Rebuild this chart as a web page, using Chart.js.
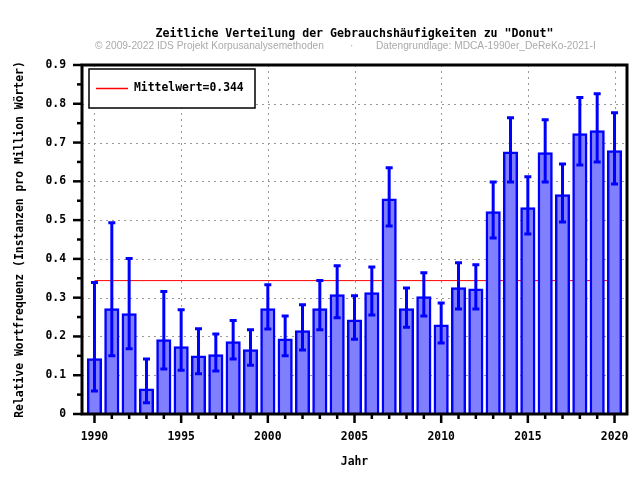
<!DOCTYPE html>
<html>
<head>
<meta charset="utf-8">
<script src="https://cdn.jsdelivr.net/npm/chart.js@4/dist/chart.umd.min.js"></script>
<style>
    body { margin:0; background:#fff; }
    #wrap { width:640px; height:480px; }
</style>
</head>
<body>
<div id="wrap"><canvas id="chart" width="640" height="480"></canvas></div>
<script>
// Data
const years = [1990, 1991, 1992, 1993, 1994, 1995, 1996, 1997, 1998, 1999,
               2000, 2001, 2002, 2003, 2004, 2005, 2006, 2007, 2008, 2009,
               2010, 2011, 2012, 2013, 2014, 2015, 2016, 2017, 2018, 2019, 2020];
const freq = [0.143, 0.272, 0.259, 0.065, 0.192, 0.174, 0.150, 0.153, 0.187, 0.166,
              0.272, 0.194, 0.215, 0.272, 0.308, 0.243, 0.313, 0.555, 0.272, 0.303,
              0.230, 0.326, 0.323, 0.522, 0.676, 0.532, 0.674, 0.566, 0.723, 0.731, 0.679];
const errLow = [0.059, 0.150, 0.168, 0.029, 0.116, 0.113, 0.104, 0.111, 0.142, 0.126,
                0.219, 0.150, 0.165, 0.217, 0.248, 0.193, 0.255, 0.485, 0.224, 0.253,
                0.183, 0.271, 0.271, 0.454, 0.598, 0.464, 0.598, 0.495, 0.642, 0.650, 0.593];
const errHigh = [0.339, 0.493, 0.401, 0.142, 0.316, 0.269, 0.220, 0.206, 0.241, 0.217,
                 0.333, 0.253, 0.282, 0.344, 0.382, 0.305, 0.379, 0.635, 0.325, 0.364,
                 0.286, 0.390, 0.385, 0.598, 0.764, 0.612, 0.759, 0.645, 0.816, 0.826, 0.777];
const meanValue = 0.344;
const xTickYears = [1990, 1995, 2000, 2005, 2010, 2015, 2020];
const yTickValues = [0, 0.1, 0.2, 0.3, 0.4, 0.5, 0.6, 0.7, 0.8, 0.9];

const MONO = "'DejaVu Sans Mono', monospace";
const BLUE = '#0000ff';

// Grid, frame, tick marks, error bars, titles and legend box
const decorPlugin = {
    id: 'decor',
    beforeDatasetsDraw(chart) {
        const { ctx, chartArea: a, scales: { x, y } } = chart;
        ctx.save();
        ctx.strokeStyle = '#999';
        ctx.lineWidth = 1;
        ctx.setLineDash([2, 4]);
        xTickYears.forEach(v => {
            const px = Math.round(x.getPixelForValue(v)) + 0.5;
            ctx.beginPath(); ctx.moveTo(px, a.top); ctx.lineTo(px, a.bottom); ctx.stroke();
        });
        yTickValues.slice(1, -1).forEach(v => {
            const py = Math.round(y.getPixelForValue(v)) + 0.5;
            ctx.beginPath(); ctx.moveTo(a.left, py); ctx.lineTo(a.right, py); ctx.stroke();
        });
        ctx.restore();
    },
    afterDatasetsDraw(chart) {
        const { ctx, chartArea: a, scales: { x, y } } = chart;
        ctx.save();

        // error bars
        ctx.strokeStyle = BLUE;
        ctx.lineWidth = 3;
        years.forEach((yr, i) => {
            const px = x.getPixelForValue(yr);
            const lo = y.getPixelForValue(errLow[i]);
            const hi = y.getPixelForValue(errHigh[i]);
            ctx.beginPath();
            ctx.moveTo(px, lo); ctx.lineTo(px, hi);
            ctx.moveTo(px - 3.5, lo); ctx.lineTo(px + 3.5, lo);
            ctx.moveTo(px - 3.5, hi); ctx.lineTo(px + 3.5, hi);
            ctx.stroke();
        });

        // tick marks
        ctx.strokeStyle = '#000';
        ctx.lineWidth = 2.5;
        years.forEach(yr => {
            const px = x.getPixelForValue(yr);
            const len = yr % 5 === 0 ? 9 : 5;
            ctx.beginPath(); ctx.moveTo(px, a.bottom); ctx.lineTo(px, a.bottom + len); ctx.stroke();
        });
        for (let k = 0; k <= 18; k++) {
            const py = y.getPixelForValue(k * 0.05);
            const len = k % 2 === 0 ? 9 : 5;
            ctx.beginPath(); ctx.moveTo(a.left, py); ctx.lineTo(a.left - len, py); ctx.stroke();
        }

        // frame
        ctx.lineWidth = 3;
        ctx.strokeRect(a.left, a.top, a.right - a.left, a.bottom - a.top);

        // legend box
        ctx.lineWidth = 1.5;
        ctx.fillStyle = '#fff';
        ctx.fillRect(a.left + 7, a.top + 4, 166, 39);
        ctx.strokeRect(a.left + 7, a.top + 4, 166, 39);
        ctx.strokeStyle = '#ff0000';
        ctx.lineWidth = 1.5;
        ctx.beginPath(); ctx.moveTo(a.left + 14, a.top + 23.5); ctx.lineTo(a.left + 46, a.top + 23.5); ctx.stroke();
        ctx.fillStyle = '#000';
        ctx.font = 'bold 11.4px ' + MONO;
        ctx.textBaseline = 'middle';
        ctx.textAlign = 'left';
        ctx.fillText('Mittelwert=' + meanValue, a.left + 52, a.top + 23.5);

        // title and source line
        const cx = (a.left + a.right) / 2;
        ctx.textAlign = 'center';
        ctx.font = 'bold 11.6px ' + MONO;
        ctx.fillText('Zeitliche Verteilung der Gebrauchshäufigkeiten zu "Donut"', cx, 34);
        ctx.fillStyle = '#aaa';
        ctx.font = "10.2px 'Liberation Sans', sans-serif";
        ctx.textAlign = 'left';
        ctx.fillText('© 2009-2022 IDS Projekt Korpusanalysemethoden', 95, 46);
        ctx.fillText('·', 350, 46);
        ctx.fillText('Datengrundlage: MDCA-1990er_DeReKo-2021-I', 376, 46);
        ctx.restore();
    }
};

new Chart(document.getElementById('chart'), {
    type: 'bar',
    data: {
        datasets: [
            {
                type: 'bar',
                label: 'Frequenz',
                data: years.map((yr, i) => ({ x: yr, y: freq[i] })),
                backgroundColor: '#8080ff',
                borderColor: BLUE,
                borderWidth: 2.5,
                barThickness: 14.5,
                order: 1
            },
            {
                type: 'line',
                label: 'Mittelwert=' + meanValue,
                data: [{ x: years[0], y: meanValue }, { x: years[years.length - 1], y: meanValue }],
                borderColor: '#ff0000',
                borderWidth: 1,
                pointRadius: 0,
                order: 2
            }
        ]
    },
    options: {
        responsive: false,
        animation: false,
        layout: { padding: { top: 65, right: 13, left: 0, bottom: 0 } },
        plugins: {
            legend: { display: false },
            tooltip: { enabled: false },
            title: { display: false }
        },
        scales: {
            x: {
                type: 'linear',
                offset: false,
                min: 1989.28,
                max: 2020.72,
                grid: { display: false, drawTicks: false, offset: false },
                border: { display: false },
                afterBuildTicks: s => { s.ticks = xTickYears.map(v => ({ value: v })); },
                afterFit: s => { s.height = 66; s.paddingLeft = 0; s.paddingRight = 0; },
                ticks: {
                    autoSkip: false,
                    maxRotation: 0,
                    padding: 16,
                    color: '#000',
                    font: { family: MONO, size: 11.4, weight: 'bold' },
                    callback: v => String(v)
                },
                title: {
                    display: true,
                    text: 'Jahr',
                    color: '#000',
                    font: { family: MONO, size: 11.4, weight: 'bold' },
                    padding: { top: 0, bottom: 11 }
                }
            },
            y: {
                min: 0,
                max: 0.9,
                grid: { display: false, drawTicks: false },
                border: { display: false },
                afterBuildTicks: s => { s.ticks = yTickValues.map(v => ({ value: v })); },
                afterFit: s => { s.width = 82; s.paddingTop = 0; s.paddingBottom = 0; },
                ticks: {
                    autoSkip: false,
                    padding: 16,
                    color: '#000',
                    font: { family: MONO, size: 11.4, weight: 'bold' },
                    callback: v => v === 0 ? '0' : v.toFixed(1)
                },
                title: {
                    display: true,
                    text: 'Relative Wortfrequenz (Instanzen pro Million Wörter)',
                    color: '#000',
                    font: { family: MONO, size: 11.4, weight: 'bold' },
                    padding: { top: 13, bottom: 0 }
                }
            }
        }
    },
    plugins: [decorPlugin]
});
</script>
</body>
</html>
